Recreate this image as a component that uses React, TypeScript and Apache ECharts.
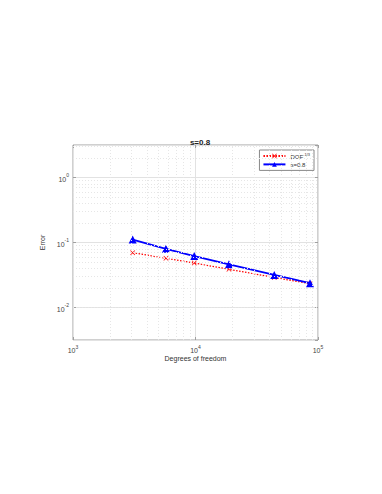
import React, { useEffect, useRef } from "react";
import * as echarts from "echarts";

const dof = [3070, 5740, 9770, 18750, 43950, 86000];
const refValues = [0.0697, 0.057, 0.0483, 0.0387, 0.029, 0.0232];
const sValues = [0.111, 0.08, 0.0618, 0.0462, 0.0317, 0.0237];
const xMinorGrid = [2000, 3000, 4000, 5000, 6000, 7000, 8000, 9000, 20000, 30000, 40000, 50000, 60000, 70000, 80000, 90000];
const yMinorGrid = [0.004, 0.005, 0.006, 0.007, 0.008, 0.009, 0.02, 0.03, 0.04, 0.05, 0.06, 0.07, 0.08, 0.09, 0.2, 0.3, 0.4, 0.5, 0.6, 0.7, 0.8, 0.9, 2, 3];
const xMin = 1000;
const xMax = 100000;
const yMin = 0.0031623;
const yMax = 3.1623;

const FONT = "Liberation Sans";

const supLabel = (v: number) => `{b|10}{s|${Math.round(Math.log10(v))}}`;
const rich = {
  b: { fontSize: 7, fontFamily: FONT, color: "#444", verticalAlign: "bottom", lineHeight: 10 },
  s: { fontSize: 5, fontFamily: FONT, color: "#444", verticalAlign: "top", lineHeight: 10, padding: [0, 0, 4, 0] },
};

export default function App() {
  const ref = useRef<HTMLDivElement>(null);
  useEffect(() => {
    if (!ref.current) return;
    const chart = echarts.init(ref.current, undefined, { renderer: "svg" });
    const crossPath = "path://M0,1 L1,0 L5,4 L9,0 L10,1 L6,5 L10,9 L9,10 L5,6 L1,10 L0,9 L4,5 Z";
    chart.setOption({
      animation: false,
      backgroundColor: "#ffffff",
      title: {
        text: "s=0.8",
        left: 195,
        textAlign: "center",
        top: 133,
        textStyle: { fontSize: 8, fontWeight: "bold", fontFamily: FONT, color: "#222" },
      },
      legend: {
        right: 68,
        top: 150,
        orient: "vertical",
        itemWidth: 22,
        itemHeight: 6,
        itemGap: 2,
        padding: [2, 4, 2, 3],
        borderColor: "#888",
        borderWidth: 1,
        backgroundColor: "#fff",
        data: ["ref", "s=0.8"],
        formatter: (name: string) => (name === "ref" ? "{t|DOF}{u|-1/3}" : "{t|s=0.8}"),
        textStyle: {
          fontFamily: FONT,
          fontSize: 6,
          color: "#333",
          rich: {
            t: { fontSize: 6, fontFamily: FONT, color: "#333", verticalAlign: "bottom", lineHeight: 8 },
            u: { fontSize: 4, fontFamily: FONT, color: "#333", verticalAlign: "top", lineHeight: 8, padding: [0, 0, 3, 0] },
          },
        },
      },
      grid: {
        left: 73,
        right: 64,
        top: 145,
        bottom: 154,
        show: true,
        borderColor: "#a0a0a0",
        borderWidth: 1,
        backgroundColor: "#fff",
      },
      xAxis: [
        {
          type: "log",
          logBase: 10,
          min: xMin,
          max: xMax,
          name: "Degrees of freedom",
          nameLocation: "middle",
          nameGap: 14,
          nameTextStyle: { fontSize: 7, fontFamily: FONT, color: "#333" },
          axisLine: { show: false },
          axisTick: { show: true, inside: true, length: 3, lineStyle: { color: "#a0a0a0" } },
          axisLabel: { formatter: supLabel, rich, margin: 4 },
          splitLine: { show: true, lineStyle: { color: "#e2e2e2", width: 1 } },
        },
        {
          type: "log",
          logBase: 10,
          min: xMin,
          max: xMax,
          position: "top",
          axisLine: { show: false },
          axisTick: { show: true, inside: true, length: 3, lineStyle: { color: "#a0a0a0" } },
          axisLabel: { show: false },
          splitLine: { show: false },
        },
      ],
      yAxis: [
        {
          type: "log",
          logBase: 10,
          min: yMin,
          max: yMax,
          name: "Error",
          nameLocation: "middle",
          nameGap: 17,
          nameTextStyle: { fontSize: 7, fontFamily: FONT, color: "#333" },
          axisLine: { show: false },
          axisTick: { show: true, inside: true, length: 3, lineStyle: { color: "#a0a0a0" } },
          axisLabel: { formatter: supLabel, rich, margin: 4, showMinLabel: false, showMaxLabel: false },
          splitLine: { show: true, lineStyle: { color: "#e2e2e2", width: 1 } },
        },
        {
          type: "log",
          logBase: 10,
          min: yMin,
          max: yMax,
          position: "right",
          axisLine: { show: false },
          axisTick: { show: true, inside: true, length: 3, lineStyle: { color: "#a0a0a0" } },
          axisLabel: { show: false },
          splitLine: { show: false },
        },
      ],
      series: [
        {
          name: "grid-minor",
          type: "line",
          data: [],
          silent: true,
          markLine: {
            silent: true,
            symbol: "none",
            label: { show: false },
            lineStyle: { color: "#e6e6e6", type: [1, 2], width: 1 },
            data: [
              ...xMinorGrid.map((v) => ({ xAxis: v })),
              ...yMinorGrid.map((v) => ({ yAxis: v })),
            ],
          },
        },
        {
          name: "ref",
          type: "line",
          data: dof.map((x, i) => [x, refValues[i]]),
          symbol: crossPath,
          symbolSize: 5,
          itemStyle: { color: "#ff0000" },
          lineStyle: { color: "#ff0000", width: 1.2, type: [1.5, 1.5] },
          z: 3,
        },
        {
          name: "s=0.8",
          type: "line",
          data: dof.map((x, i) => [x, sValues[i]]),
          symbol: "triangle",
          symbolSize: 8,
          itemStyle: { color: "#0000ff" },
          lineStyle: { color: "#0000ff", width: 1.8 },
          z: 4,
        },
      ],
    });
    return () => chart.dispose();
  }, []);
  return (
    <div
      ref={ref}
      style={{ position: "fixed", left: 0, top: 0, width: 382, height: 494, background: "#fff" }}
    />
  );
}
